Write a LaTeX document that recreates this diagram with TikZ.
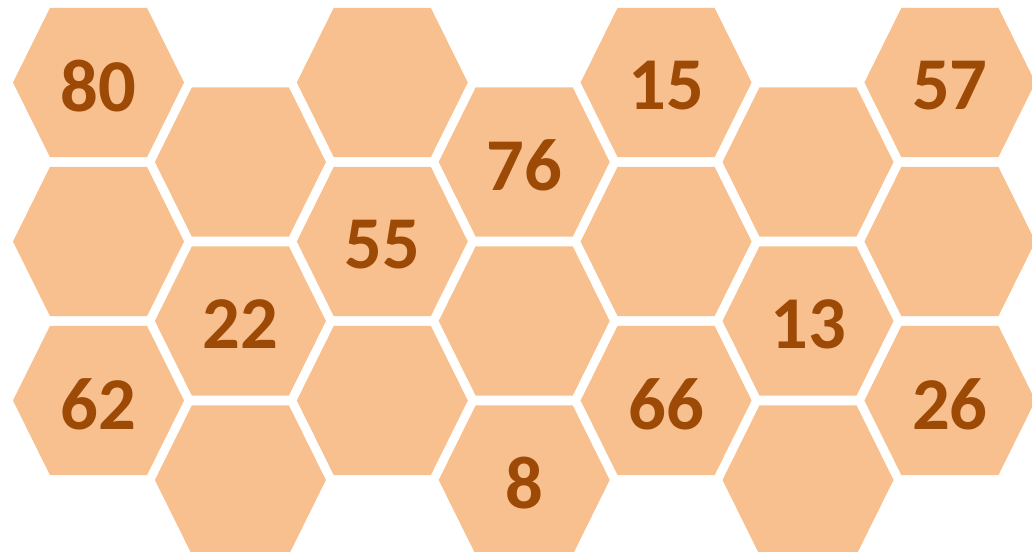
\documentclass[tikz,border=0pt]{standalone}
\usepackage{fontspec}
\setmainfont{Carlito}
\usetikzlibrary{calc}
\definecolor{hexorange}{HTML}{F8BF8F}
\definecolor{numbrown}{HTML}{9C4A06}

\begin{document}
\begin{tikzpicture}[x=0.025cm,y=-0.025cm,
  hexfill/.style={fill=hexorange},
  hexnum/.style={text=numbrown,font=\bfseries\fontsize{53}{60}\selectfont,inner sep=0pt}]
  \useasboundingbox (0,0) rectangle (1032,552);
  % columns alternate up and down by half a row
  \foreach \col/\row/\num in {0/0/80,0/1/,0/2/62,1/0/,1/1/22,1/2/,2/0/,2/1/55,2/2/,
      3/0/76,3/1/,3/2/8,4/0/15,4/1/,4/2/66,5/0/,5/1/13,5/2/,6/0/57,6/1/,6/2/26} {
    \pgfmathsetmacro{\cx}{98.5+141.9*\col}
    \pgfmathsetmacro{\cy}{82.5+159*\row+79.5*mod(\col,2)}
    \fill[hexfill,shift={(\cx,\cy)}] (-85.5,0) -- (-48.5,-74.7) -- (48.5,-74.7)
      -- (85.5,0) -- (48.5,74.7) -- (-48.5,74.7) -- cycle;
    \node[hexnum] (hex-\col-\row) at (\cx,\cy+3.5) {\num};
  }
\end{tikzpicture}
\end{document}
